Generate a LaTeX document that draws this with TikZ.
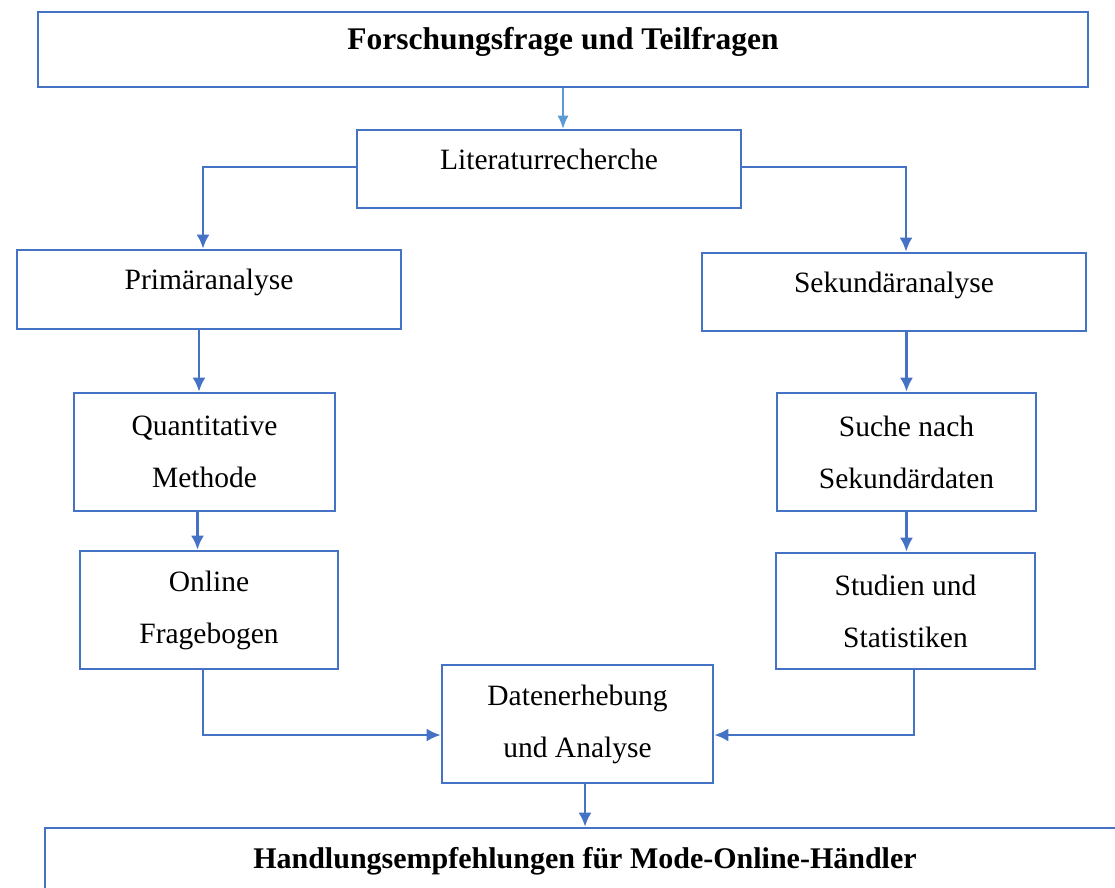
\documentclass[tikz,border=0pt]{standalone}
\usepackage{fontspec}
\setmainfont{Liberation Serif}
\usepackage{xcolor}
\usetikzlibrary{shapes,arrows.meta}
\definecolor{boxblue}{HTML}{4472C4}
\definecolor{lightblue}{HTML}{5B9BD5}

\begin{document}
\begin{tikzpicture}[x=1pt, y=-1pt, >={Latex[length=14pt,width=13pt]}]
    \tikzstyle{box} = [rectangle, draw=boxblue, line width=2.6pt, fill=white,
        align=center, inner sep=0pt, font=\fontsize{29.5}{52}\selectfont]
    \tikzstyle{block} = [box, text height=14pt, text depth=14pt]
    \tikzstyle{head} = [block, font=\fontsize{31.5}{52}\selectfont\bfseries]
    \tikzstyle{line} = [draw=boxblue, line width=2.6pt, ->]

    \useasboundingbox (0,0) rectangle (1115,887);

    \node [head, minimum width=1050pt, minimum height=75pt] (frage) at (563,49.5) {Forschungsfrage und Teilfragen};
    \node [block, minimum width=384pt, minimum height=78pt] (lit) at (549,169) {Literaturrecherche};
    \node [block, minimum width=384pt, minimum height=79pt] (prim) at (209,289.5) {Primäranalyse};
    \node [block, minimum width=384pt, minimum height=78pt] (sek) at (894,292) {Sekundäranalyse};
    \node [box, minimum width=261pt, minimum height=118pt] (quant) at (204.5,452) {Quantitative\\Methode};
    \node [box, minimum width=259pt, minimum height=118pt] (suche) at (906.5,452) {Suche nach\\Sekundärdaten};
    \node [box, minimum width=258pt, minimum height=118pt] (online) at (209,610) {Online\\Fragebogen};
    \node [box, minimum width=259pt, minimum height=116pt] (studien) at (905.5,611) {Studien und\\Statistiken};
    \node [box, minimum width=271pt, minimum height=118pt] (daten) at (577.5,724) {Datenerhebung\\und Analyse};
    \node [head, font=\fontsize{30}{52}\selectfont\bfseries, minimum width=1080pt, minimum height=80pt] (handl) at (585,868) {Handlungsempfehlungen für Mode-Online-Händler};

    \path [line, draw=lightblue, line width=1.4pt, -{Latex[length=13pt,width=11pt]}] (frage.south) -- (frage.south |- lit.north);
    \path [line] ([yshift=2pt]lit.west) -| ([xshift=-6pt]prim.north);
    \path [line] ([yshift=2pt]lit.east) -| ([xshift=12pt]sek.north);
    \path [line] ([xshift=-10pt]prim.south) -- ([xshift=-10pt]prim.south |- quant.north);
    \path [line] ([xshift=-7pt]quant.south) -- ([xshift=-7pt]quant.south |- online.north);
    \path [line] (sek.south -| suche) -- (suche.north);
    \path [line] (suche.south) -- (suche.south |- studien.north);
    \path [line] ([xshift=-6pt]online.south) |- ([yshift=-11pt]daten.west);
    \path [line] ([xshift=8.5pt]studien.south) |- ([yshift=-11pt]daten.east);
    \path [line] ([xshift=7.5pt]daten.south) -- ([xshift=7.5pt]daten.south |- handl.north);
\end{tikzpicture}
\end{document}
